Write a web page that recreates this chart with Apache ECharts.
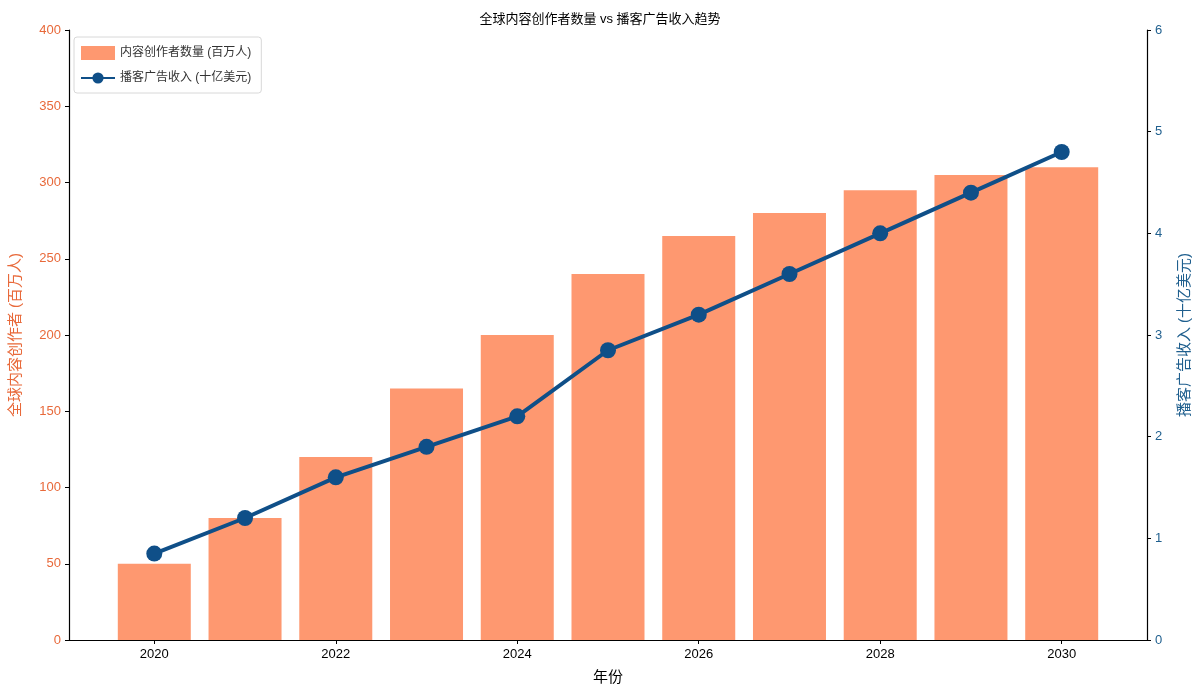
<!DOCTYPE html>
<html>
<head>
<meta charset="utf-8">
<script src="https://cdn.jsdelivr.net/npm/echarts@6/dist/echarts.min.js"></script>
<style>
html,body{margin:0;padding:0;background:#fff;}
#chart{width:1200px;height:696px;}
</style>
</head>
<body>
<div id="chart"></div>
<script>
const years = [2020, 2021, 2022, 2023, 2024, 2025, 2026, 2027, 2028, 2029, 2030];
const creators = [50, 80, 120, 165, 200, 240, 265, 280, 295, 305, 310];
const podcastRevenue = [0.85, 1.2, 1.6, 1.9, 2.2, 2.85, 3.2, 3.6, 4.0, 4.4, 4.8];
const xTickValues = [2020, 2022, 2024, 2026, 2028, 2030];

const barColor = '#fe9870';
const lineColor = '#0f4f88';
const leftColor = '#e8693a';
const rightColor = '#1f5f8e';
const font = '"Liberation Sans", "Noto Sans CJK SC", "DejaVu Sans", sans-serif';

const chart = echarts.init(document.getElementById('chart'));
chart.setOption({
  animation: false,
  backgroundColor: '#fff',
  title: {
    text: '全球内容创作者数量 vs 播客广告收入趋势',
    left: 'center', top: 8,
    textStyle: {fontSize: 13, fontWeight: 'normal', color: '#000', fontFamily: font}
  },
  legend: {
    left: 74, top: 37, orient: 'vertical',
    padding: [9, 10, 9, 6], itemGap: 12,
    itemWidth: 34, itemHeight: 14,
    borderColor: '#d8d8d8', borderWidth: 1, borderRadius: 3,
    backgroundColor: '#fff',
    textStyle: {fontSize: 12, color: '#333', fontFamily: font},
    data: [
      {name: '内容创作者数量 (百万人)', icon: 'rect'},
      {name: '播客广告收入 (十亿美元)'}
    ]
  },
  grid: {left: 67, right: 53, top: 30, bottom: 56, containLabel: false},
  xAxis: [{
    type: 'value', min: 2019.06, max: 2030.94,
    name: '年份', nameLocation: 'middle', nameGap: 30,
    nameTextStyle: {fontSize: 15, color: '#000', fontFamily: font},
    axisLine: {show: true, onZero: false, lineStyle: {color: '#000', width: 1.2}},
    axisTick: {show: true, length: 4, lineStyle: {color: '#000'}, customValues: xTickValues},
    axisLabel: {fontSize: 13, color: '#000', fontFamily: font, margin: 8, customValues: xTickValues,
      formatter: v => String(Math.round(v))},
    splitLine: {show: false}
  }, {
    type: 'value', position: 'top', min: 2019.06, max: 2030.94,
    axisLine: {show: true, lineStyle: {color: '#000', width: 1.2}},
    axisTick: {show: false}, axisLabel: {show: false}, splitLine: {show: false}
  }],
  yAxis: [{
    type: 'value', min: 0, max: 400, interval: 50,
    name: '全球内容创作者 (百万人)', nameLocation: 'middle', nameGap: 46, nameRotate: 90,
    nameTextStyle: {fontSize: 15, color: leftColor, fontFamily: font},
    axisLine: {show: true, lineStyle: {color: '#000', width: 1.2}},
    axisTick: {show: true, length: 4, lineStyle: {color: '#000'}},
    axisLabel: {fontSize: 13, color: leftColor, fontFamily: font, margin: 8},
    splitLine: {show: false}
  }, {
    type: 'value', min: 0, max: 6, interval: 1, position: 'right',
    name: '播客广告收入 (十亿美元)', nameLocation: 'middle', nameGap: 30, nameRotate: 90,
    nameTextStyle: {fontSize: 15, color: rightColor, fontFamily: font},
    axisLine: {show: true, lineStyle: {color: '#000', width: 1.2}},
    axisTick: {show: true, length: 4, lineStyle: {color: '#000'}},
    axisLabel: {fontSize: 13, color: rightColor, fontFamily: font, margin: 8},
    splitLine: {show: false}
  }],
  series: [{
    name: '内容创作者数量 (百万人)',
    type: 'bar', xAxisIndex: 0, yAxisIndex: 0,
    barWidth: 73,
    itemStyle: {color: barColor},
    data: years.map((y, i) => [y, creators[i]])
  }, {
    name: '播客广告收入 (十亿美元)',
    type: 'line', xAxisIndex: 0, yAxisIndex: 1,
    symbol: 'circle', symbolSize: 16,
    lineStyle: {color: lineColor, width: 4},
    itemStyle: {color: lineColor},
    data: years.map((y, i) => [y, podcastRevenue[i]]),
    z: 5
  }]
});
</script>
</body>
</html>
